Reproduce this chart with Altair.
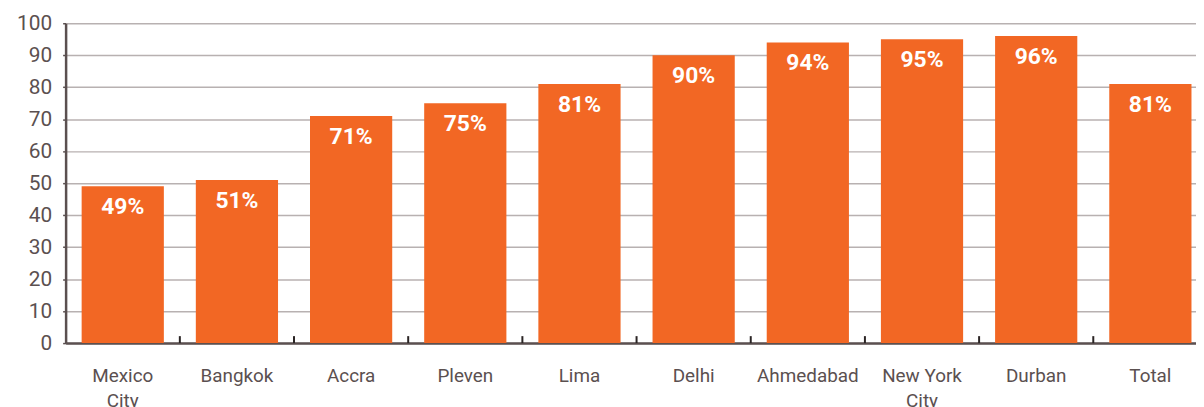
import altair as alt
import pandas as pd

categories = ["Mexico City", "Bangkok", "Accra", "Pleven", "Lima", "Delhi",
              "Ahmedabad", "New York City", "Durban", "Total"]
values = [49, 51, 71, 75, 81, 90, 94, 95, 96, 81]
labels = [f"{v}%" for v in values]
y_ticks = [0, 10, 20, 30, 40, 50, 60, 70, 80, 90, 100]

df = pd.DataFrame({"city": categories, "value": values, "label": labels})
tick_df = pd.DataFrame({"city": categories[1:]})

W, H = 1138, 322
FONT = "Roboto"
ORANGE = "#F26724"
DARK = "#5b5050"
GRID = "#b8b1b1"

P_IN, P_OUT = 0.28, 0.09
STEP = W / (len(categories) - P_IN + 2 * P_OUT)
xscale = alt.Scale(domain=categories, paddingInner=P_IN, paddingOuter=P_OUT,
                   align=0.78, round=False)
yscale = alt.Scale(domain=[0, 100], nice=False)

split_expr = ("indexof(datum.label, ' ') >= 0 ? "
              "[slice(datum.label, 0, lastindexof(datum.label, ' ')), "
              "slice(datum.label, lastindexof(datum.label, ' ') + 1)] : datum.label")

xaxis = alt.Axis(title=None, labelAngle=0, ticks=False, domain=True,
                 domainColor=DARK, domainWidth=2.5, labelFont=FONT,
                 labelFontSize=19, labelColor=DARK, labelPadding=24,
                 labelLineHeight=25, labelExpr=split_expr, grid=False)
yaxis = alt.Axis(title=None, values=y_ticks, labelOverlap=False,
                 grid=True, gridColor=GRID,
                 gridWidth=1.5, domain=True, domainColor=DARK, domainWidth=2.5,
                 ticks=True, tickSize=3, tickColor=DARK, tickWidth=1.5,
                 labelFont=FONT, labelFontSize=21, labelColor=DARK,
                 labelPadding=11)

bars = alt.Chart(df).mark_bar(color=ORANGE).encode(
    x=alt.X("city:N", scale=xscale, sort=categories, axis=xaxis),
    y=alt.Y("value:Q", scale=yscale, axis=yaxis),
)

text = alt.Chart(df).mark_text(color="white", font=FONT, fontSize=23, fontWeight="bold",
                               baseline="middle", dy=21).encode(
    x=alt.X("city:N", scale=xscale, sort=categories, axis=xaxis),
    y=alt.Y("value:Q", scale=yscale, axis=yaxis),
    text="label:N",
)

ticks = alt.Chart(tick_df).mark_rule(color="#2a2424", strokeWidth=2,
                                     xOffset=-(P_IN / 2) * STEP).encode(
    x=alt.X("city:N", scale=xscale, sort=categories, bandPosition=0, axis=xaxis),
    y=alt.value(H),
    y2=alt.value(H - 7),
)

chart = alt.layer(bars, ticks, text).properties(
    width=W, height=H,
    autosize=alt.AutoSizeParams(type="none"),
    padding={"left": 58, "top": 14, "right": 0, "bottom": 63},
).configure_view(stroke=None)

chart.save("out.html", embed_options={"renderer": "svg", "actions": False})
